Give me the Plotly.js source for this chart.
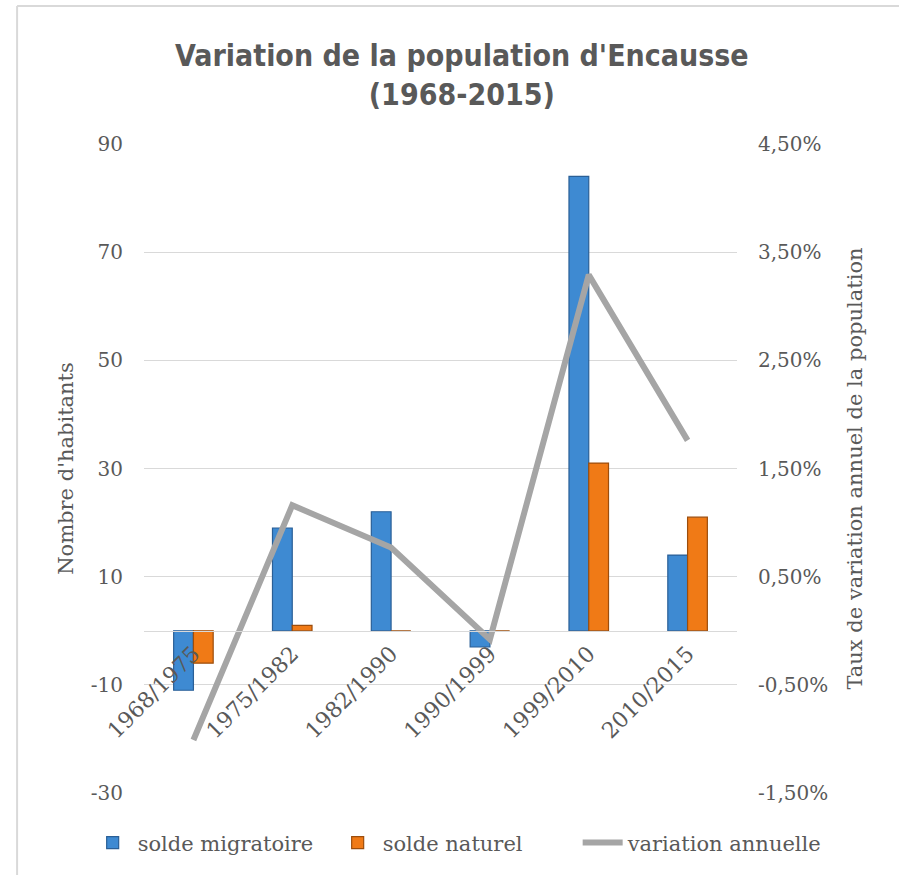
<!DOCTYPE html>
<html>
<head>
<meta charset="utf-8">
<script src="https://cdn.plot.ly/plotly-3.0.1.min.js"></script>
<style>html,body{margin:0;padding:0;background:#fff;}#chart{width:899px;height:875px;}</style>
</head>
<body>
<div id="chart"></div>
<script>
var categories = ["1968/1975", "1975/1982", "1982/1990", "1990/1999", "1999/2010", "2010/2015"];
var soldeMigratoire = [-11, 19, 22, -3, 84, 14];
var soldeNaturel = [-6, 1, 0, 0, 31, 21];
var variationAnnuelle = [-0.0101, 0.0116, 0.0077, -0.0008, 0.0329, 0.0176];
var leftTickVals = [-30, -10, 10, 30, 50, 70, 90];
var leftTickText = ["-30", "-10", "10", "30", "50", "70", "90"];
var rightTickVals = [-0.015, -0.005, 0.005, 0.015, 0.025, 0.035, 0.045];
var rightTickText = ["-1,50%", "-0,50%", "0,50%", "1,50%", "2,50%", "3,50%", "4,50%"];

var serif = "DejaVu Serif, Liberation Serif, serif";
var grey = "#595959";

var traces = [
  {type: "bar", name: "solde migratoire", x: categories, y: soldeMigratoire,
   marker: {color: "#3E8AD2", line: {color: "#2A5F96", width: 1.2}}},
  {type: "bar", name: "solde naturel", x: categories, y: soldeNaturel,
   marker: {color: "#F07A16", line: {color: "#9C4D0C", width: 1.2}}},
  {type: "scatter", mode: "lines", name: "variation annuelle", x: categories, y: variationAnnuelle,
   yaxis: "y2", line: {color: "#A5A5A5", width: 6}}
];

var layout = {
  width: 899, height: 875,
  margin: {l: 144, r: 162, t: 144, b: 82},
  paper_bgcolor: "#fff", plot_bgcolor: "rgba(0,0,0,0)",
  title: {text: "<b>Variation de la population d'Encausse<br>(1968-2015)</b>",
          font: {family: "DejaVu Sans Condensed, Open Sans, sans-serif", size: 30, color: grey},
          x: 0.536, xanchor: "center", xref: "paper", y: 0.925, yanchor: "middle", yref: "container"},
  barmode: "group", bargap: 0.6, bargroupgap: 0,
  showlegend: true,
  legend: {orientation: "h", x: -0.095, xanchor: "left", y: -0.077, yanchor: "middle",
           font: {family: serif, size: 21, color: grey}, traceorder: "normal", itemwidth: 40,
           entrywidth: 190, entrywidthmode: "pixels"},
  xaxis: {type: "category", anchor: "free", position: 0.25, showline: true, linecolor: "#D9D9D9", linewidth: 1.5,
          showgrid: false, ticks: "", tickangle: -45, tickfont: {family: serif, size: 22, color: grey}},
  yaxis: {range: [-30, 90], tickvals: leftTickVals, ticktext: leftTickText, showgrid: true, gridcolor: "#D9D9D9",
          gridwidth: 1.3, zeroline: false, showline: false, ticks: "", ticklabelstandoff: 20,
          tickfont: {family: serif, size: 20, color: grey},
          title: {text: "Nombre d'habitants", font: {family: serif, size: 21, color: grey}, standoff: 11}},
  yaxis2: {range: [-0.015, 0.045], tickvals: rightTickVals, ticktext: rightTickText, overlaying: "y", side: "right",
           showgrid: false, zeroline: false, showline: false, ticks: "", ticklabelstandoff: 20,
           tickfont: {family: serif, size: 20, color: grey},
           title: {text: "Taux de variation annuel de la population", font: {family: serif, size: 21, color: grey}, standoff: 20}},
  shapes: [
    {type: "line", xref: "paper", yref: "paper", x0: -0.214, x1: 1.3, y0: 1.2126, y1: 1.2126, line: {color: "#D9D9D9", width: 2}},
    {type: "line", xref: "paper", yref: "paper", x0: -0.214, x1: -0.214, y0: -0.2, y1: 1.2126, line: {color: "#D9D9D9", width: 2}}
  ],
  separators: ",."
};

Plotly.newPlot("chart", traces, layout, {displayModeBar: false, staticPlot: true});
</script>
</body>
</html>
